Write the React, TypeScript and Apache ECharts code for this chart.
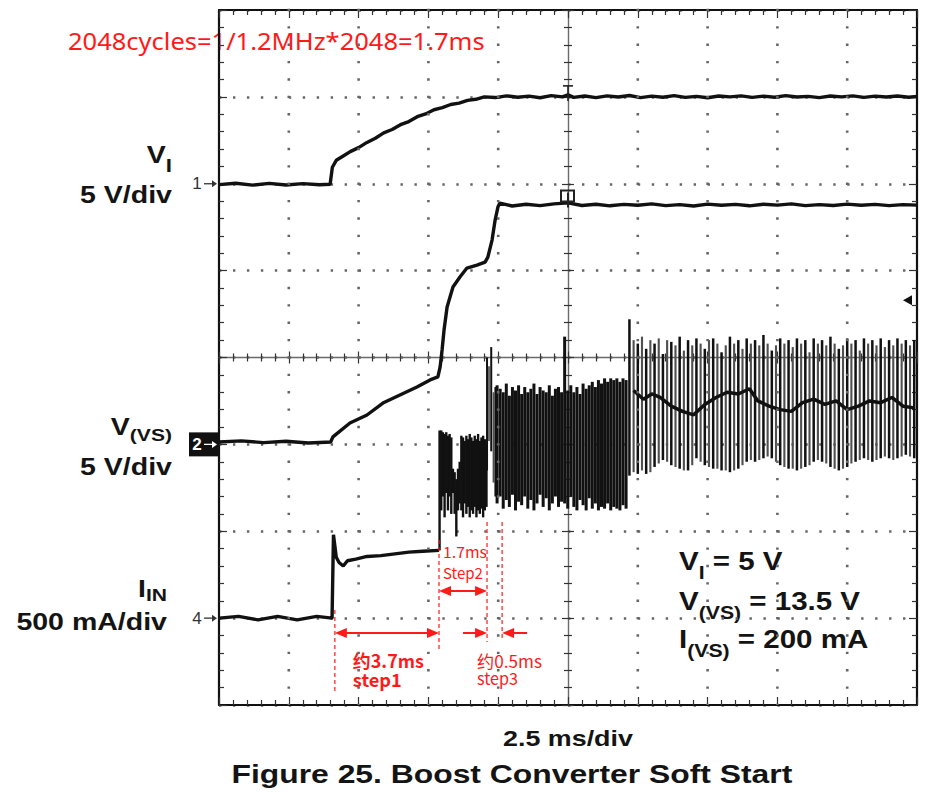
import React, { useEffect, useRef } from "react";
import * as echarts from "echarts";

// ---------- scope settings ----------
const TIME_RANGE_MS = [0, 25];
const TIME_PER_DIV_MS = 2.5;
const DIV_RANGE = [-4, 4];
const TIME_GRID_MS = [2.5, 5, 7.5, 10, 15, 17.5, 20, 22.5];
const MINOR_PER_DIV = 5;
const VI_AXIS_RANGE = [-30, 10]; // 5 V/div, ch1 ground at +2 div
const VS_AXIS_RANGE = [-15, 25]; // 5 V/div, ch2 ground at -1 div
const IIN_AXIS_RANGE = [-0.5, 3.5]; // 500 mA/div, ch4 ground at -3 div

const CH_MARKER_DIVS = [2, -1, -3];
const CH_MARKER_LABELS = ["1", "2", "4"];
const TRIGGER_TIME_MS = 12.5;
const TRIGGER_LEVEL_DIV = 0.66;
// step1 start, step2 start, step2 end, step3 end (ms)
const STEP_EDGES_MS = [4.15, 7.88, 9.6, 10.14];

// ---------- traces ----------
const VI_TRACE: [number, number][] = [
  [0, -0.05], [0.6, 0.03], [1.2, -0.08], [1.8, 0.02], [2.4, -0.07], [3.0, 0.01], [3.6, -0.06], [3.98, -0.03],
  [4.06, 0.95], [4.2, 1.35], [4.45, 1.6], [4.7, 1.85], [5.0, 2.08], [5.3, 2.38], [5.6, 2.62], [5.9, 2.93],
  [6.2, 3.12], [6.5, 3.4], [6.8, 3.58], [7.1, 3.86], [7.4, 4.02], [7.7, 4.26], [8.0, 4.38], [8.3, 4.56],
  [8.6, 4.64], [8.9, 4.8], [9.2, 4.86], [9.5, 5.0], [9.9, 4.96], [10.3, 5.06], [10.7, 4.98], [11.1, 5.04],
  [11.5, 4.95], [11.9, 5.07], [12.3, 5.0], [12.5, 5.12], [12.7, 4.97], [13.1, 5.05], [13.5, 4.96], [13.9, 5.06],
  [14.3, 4.99], [14.7, 5.08], [15.1, 4.96], [15.5, 5.04], [15.9, 4.98], [16.3, 5.07], [16.7, 4.97], [17.1, 5.03],
  [17.5, 4.95], [17.9, 5.05], [18.3, 5.0], [18.7, 5.06], [19.1, 4.97], [19.5, 5.04], [19.9, 4.98], [20.3, 5.07],
  [20.7, 4.99], [21.1, 5.03], [21.5, 4.96], [21.9, 5.05], [22.3, 5.0], [22.7, 5.06], [23.1, 4.97], [23.5, 5.04],
  [23.9, 4.99], [24.3, 5.05], [24.7, 4.98], [25, 5.02],
];

const VS_TRACE: [number, number][] = [
  [0, 0.14], [0.8, 0.2], [1.6, 0.1], [2.4, 0.18], [3.2, 0.08], [4.0, 0.14],
  [4.08, 0.43], [4.69, 1.23], [5.3, 1.69], [5.87, 2.38], [6.48, 2.84], [7.09, 3.3], [7.56, 3.71], [7.84, 3.88],
  [7.92, 4.46], [7.99, 5.43], [8.06, 6.58], [8.17, 7.91], [8.38, 9.06], [8.63, 9.63], [8.88, 10.15],
  [9.24, 10.32], [9.53, 10.49], [9.63, 10.78], [9.78, 11.76], [9.89, 12.91], [9.99, 13.66], [10.06, 13.89],
  [10.5, 13.72], [11.0, 13.82], [11.5, 13.74], [12.0, 13.84], [12.5, 13.9], [13.0, 13.75], [13.5, 13.82],
  [14.0, 13.73], [14.5, 13.81], [15.0, 13.76], [15.5, 13.84], [16.0, 13.74], [16.5, 13.8], [17.0, 13.72],
  [17.5, 13.83], [18.0, 13.76], [18.5, 13.81], [19.0, 13.73], [19.5, 13.82], [20.0, 13.77], [20.5, 13.84],
  [21.0, 13.74], [21.5, 13.8], [22.0, 13.75], [22.5, 13.83], [23.0, 13.76], [23.5, 13.81], [24.0, 13.74],
  [24.5, 13.8], [25, 13.77],
];

const IIN_STEP_TRACE: [number, number][] = [
  [0, 0], [0.7, 0.01], [1.4, -0.01], [2.1, 0.01], [2.8, -0.01], [3.5, 0.01], [4.05, 0],
  [4.1, 0.48], [4.2, 0.35], [4.3, 0.32], [4.45, 0.3], [4.6, 0.33], [4.9, 0.34], [5.3, 0.355], [5.8, 0.36],
  [6.3, 0.37], [6.8, 0.38], [7.3, 0.385], [7.88, 0.39],
];

// switching bursts: each stroke is one sampled [high, low] swing
const IIN_SW_A_START_MS = 7.9;
const IIN_SW_A_STEP_MS = 0.06;
const IIN_SW_A_HI = [
  1.08, 1.08, 1.07, 1.06, 1.07, 1.05, 1.06, 1.04, 0.86, 0.84, 0.8, 0.86, 0.9, 1.05,
  1.04, 1.02, 1.05, 1.03, 1.06, 1.04, 1.02, 1.05, 1.03, 1.06, 1.02, 1.04, 1.05, 1.03, 1.0,
];
const IIN_SW_A_LO = [
  0.39, 0.62, 0.7, 0.58, 0.72, 0.62, 0.7, 0.6, 0.72, 0.6, 0.47, 0.62, 0.66, 0.62,
  0.58, 0.66, 0.6, 0.64, 0.58, 0.62, 0.6, 0.64, 0.58, 0.62, 0.6, 0.63, 0.58, 0.62, 0.64,
];
const IIN_SPIKES: [number, number, number][] = [
  [9.6, 0.85, 1.5], [9.67, 1.02, 1.45], [9.75, 0.96, 1.56], [9.83, 0.78, 1.3], [9.9, 0.7, 1.33],
];
const IIN_SW_B_START_MS = 9.96;
const IIN_SW_B_STEP_MS = 0.11;
const IIN_SW_B_HI = [
  1.34, 1.32, 1.3, 1.35, 1.28, 1.33, 1.31, 1.34, 1.29, 1.33, 1.3, 1.32, 1.35, 1.29, 1.33,
  1.31, 1.3, 1.34, 1.28, 1.32, 1.33, 1.3, 1.62, 1.31, 1.34, 1.3, 1.33, 1.29, 1.35, 1.32,
  1.34, 1.36, 1.33, 1.37, 1.35, 1.38, 1.36, 1.38, 1.37, 1.38, 1.36, 1.38, 1.37,
];
const IIN_SW_B_LO = [
  0.66, 0.7, 0.63, 0.68, 0.64, 0.71, 0.62, 0.67, 0.65, 0.7, 0.63, 0.68, 0.62, 0.66, 0.71,
  0.64, 0.69, 0.62, 0.66, 0.7, 0.64, 0.67, 0.66, 0.63, 0.7, 0.64, 0.62, 0.68, 0.65, 0.62,
  0.69, 0.63, 0.66, 0.62, 0.64, 0.63, 0.66, 0.62, 0.64, 0.63, 0.62, 0.65, 0.63,
];
const IIN_SW_C_START_MS = 14.7;
const IIN_SW_C_STEP_MS = 0.15;
const IIN_SW_C_HI = [
  1.72, 1.6, 1.58, 1.62, 1.55, 1.6, 1.58, 1.61, 1.52, 1.6, 1.59, 1.57, 1.62, 1.54, 1.6,
  1.57, 1.61, 1.58, 1.55, 1.6, 1.61, 1.58, 1.53, 1.57, 1.62, 1.58, 1.6, 1.55, 1.61, 1.58,
  1.6, 1.57, 1.63, 1.58, 1.54, 1.57, 1.61, 1.58, 1.6, 1.56, 1.61, 1.58, 1.6, 1.53, 1.61,
  1.58, 1.6, 1.57, 1.62, 1.58, 1.55, 1.57, 1.61, 1.58, 1.6, 1.54, 1.61, 1.58, 1.6, 1.57,
  1.61, 1.56, 1.6, 1.57, 1.61, 1.58, 1.6, 1.57, 1.6,
];
const IIN_SW_C_LO = [
  0.82, 0.84, 0.83, 0.85, 0.83, 0.84, 0.87, 0.89, 0.91, 0.9, 0.88, 0.87, 0.86, 0.85, 0.85,
  0.88, 0.92, 0.9, 0.88, 0.87, 0.86, 0.86, 0.85, 0.85, 0.84, 0.85, 0.86, 0.88, 0.9, 0.91,
  0.9, 0.91, 0.92, 0.93, 0.92, 0.9, 0.88, 0.87, 0.86, 0.86, 0.85, 0.86, 0.87, 0.88, 0.9,
  0.91, 0.9, 0.89, 0.87, 0.86, 0.85, 0.86, 0.87, 0.89, 0.9, 0.91, 0.92, 0.91, 0.9, 0.91,
  0.92, 0.93, 0.92, 0.91, 0.92, 0.93, 0.94, 0.93, 0.92,
];
const IIN_MID: [number, number][] = [
  [14.85, 1.31], [15.2, 1.26], [15.5, 1.29], [15.8, 1.27], [16.2, 1.22], [16.6, 1.19], [17.0, 1.17],
  [17.4, 1.23], [17.8, 1.27], [18.2, 1.3], [18.6, 1.29], [19.0, 1.32], [19.3, 1.25], [19.7, 1.22],
  [20.1, 1.2], [20.5, 1.19], [20.9, 1.24], [21.3, 1.26], [21.7, 1.23], [22.1, 1.25], [22.5, 1.2],
  [22.9, 1.22], [23.3, 1.25], [23.7, 1.24], [24.1, 1.27], [24.5, 1.22], [24.9, 1.21],
];

// ---------- texts ----------
const TOP_NOTE = "2048cycles=1/1.2MHz*2048=1.7ms";
const TITLE = "Figure 25. Boost Converter Soft Start";
const TIME_SCALE_LABEL = "2.5 ms/div";

const GRID = { left: 219, top: 10, width: 698, height: 695 };
const LABEL_FONT = '"Liberation Sans", Arial, sans-serif';
const RED_FONT = '"Noto Sans CJK SC", "Noto Sans", sans-serif';
const DOT_COLOR = "#666666";

let measureCtx: CanvasRenderingContext2D | null = null;
function textWidth(s: string, size: number, weight: string, family: string) {
  if (!measureCtx) measureCtx = document.createElement("canvas").getContext("2d");
  measureCtx!.font = `${weight} ${size}px ${family}`;
  return measureCtx!.measureText(s).width;
}

type Part = [string, number, number];
function textLine(o: {
  x: number; baseline: number; align: "left" | "right" | "center"; parts: Part[];
  scale?: number; width?: number; weight?: string; family?: string; color?: string; k?: number;
}) {
  const weight = o.weight || "bold";
  const family = o.family || LABEL_FONT;
  const k = o.k ?? 0.347;
  const widths = o.parts.map((p) => textWidth(p[0], p[1], weight, family));
  const total = widths.reduce((a, b) => a + b, 0);
  const scale = o.width ? o.width / total : o.scale || 1;
  let cx = o.align === "left" ? 0 : o.align === "right" ? -total : -total / 2;
  const children: any[] = [];
  o.parts.forEach((p, i) => {
    children.push({
      type: "text", x: cx, y: p[2] - k * p[1], silent: true,
      style: {
        text: p[0], fontSize: p[1], fontWeight: weight, fontFamily: family,
        fill: o.color || "#141414", align: "left", verticalAlign: "middle",
      },
    });
    cx += widths[i];
  });
  return { type: "group", x: o.x, y: o.baseline, scaleX: scale, scaleY: 1, z: 50, children };
}

function arrowHead(x: number, y: number, dir: 1 | -1, color: string) {
  return {
    type: "polygon", z: 60, silent: true,
    shape: { points: [[x, y], [x - dir * 12, y - 5], [x - dir * 12, y + 5]] },
    style: { fill: color },
  };
}
function hLine(x1: number, x2: number, y: number, color: string, w = 2) {
  return { type: "line", z: 60, silent: true, shape: { x1, y1: y, x2, y2: y }, style: { stroke: color, lineWidth: w } };
}
function vDash(x: number, y1: number, y2: number, color = "#ff1a1a", width = 1.2, dash: number[] = [4, 3]) {
  return {
    type: "line", z: 60, silent: true, shape: { x1: x, y1, x2: x, y2 },
    style: { stroke: color, lineWidth: width, lineDash: dash },
  };
}

function strokes(start: number, step: number, hi: number[], lo: number[]): [number, number, number][] {
  return hi.map((h, i) => [Math.round((start + i * step) * 1000) / 1000, lo[i], h]);
}

function strokeSeries(name: string, data: [number, number, number][], width: number, alt: boolean) {
  return {
    name, type: "custom", yAxisIndex: 6, data, silent: true, clip: true, z: 5,
    encode: { x: 0, y: [1, 2] },
    renderItem: (params: any, api: any) => {
      const t = api.value(0);
      const p1 = api.coord([t, api.value(1)]);
      const p2 = api.coord([t, api.value(2)]);
      const grey = alt && params.dataIndex % 2 === 1;
      return {
        type: "line",
        shape: { x1: p1[0], y1: p1[1], x2: p2[0], y2: p2[1] },
        style: { stroke: grey ? "#505050" : "#111", lineWidth: grey ? width * 0.85 : width },
      };
    },
  };
}

export default function App() {
  const ref = useRef<HTMLDivElement>(null);
  useEffect(() => {
    if (!ref.current) return;
    const chart = echarts.init(ref.current, null, { renderer: "svg" });
    const dotStyle = (gap: number) => ({ show: true, lineStyle: { color: DOT_COLOR, width: 2.6, type: [2.4, gap] } });
    const frameTickX = (position: string, offset: number, inside: boolean, showLine: boolean, color: string) => ({
      type: "value", min: TIME_RANGE_MS[0], max: TIME_RANGE_MS[1], interval: TIME_PER_DIV_MS,
      position, offset,
      axisLine: { show: showLine, onZero: false, lineStyle: { color, width: color === "#111" ? 2.2 : 1.4 } },
      axisTick: { show: true, inside, length: inside && offset === 0 ? 8 : 6, lineStyle: { color: "#333", width: 1.2 } },
      minorTick: { show: true, splitNumber: MINOR_PER_DIV, length: inside && offset === 0 ? 5 : 4, lineStyle: { color: "#333", width: 1.2 } },
      axisLabel: { show: false },
      splitLine: { show: false },
      z: 1,
    });
    const frameTickY = (position: string, offset: number, inside: boolean, showLine: boolean, color: string, split: boolean) => ({
      type: "value", min: DIV_RANGE[0], max: DIV_RANGE[1], interval: 1,
      position, offset,
      axisLine: { show: showLine, onZero: false, lineStyle: { color, width: color === "#111" ? 2.2 : 1.4 } },
      axisTick: { show: true, inside, length: inside && offset === 0 ? 8 : 6, lineStyle: { color: "#333", width: 1.2 } },
      minorTick: { show: true, splitNumber: MINOR_PER_DIV, length: inside && offset === 0 ? 5 : 4, lineStyle: { color: "#333", width: 1.2 } },
      axisLabel: { show: false },
      splitLine: split ? dotStyle(13.96 - 2.4) : { show: false },
      z: 1,
    });
    const hidden = (r: number[]) => ({ type: "value", min: r[0], max: r[1], show: false, splitLine: { show: false } });

    const lineSeries = (name: string, axis: number, data: [number, number][], width: number, color = "#111") => ({
      name, type: "line", yAxisIndex: axis, data, showSymbol: false, symbol: "none", silent: true,
      lineStyle: { color, width }, z: 5,
    });

    const option: any = {
      animation: false,
      backgroundColor: "#ffffff",
      grid: { ...GRID, show: false },
      xAxis: [
        frameTickX("bottom", 0, true, true, "#111"),
        frameTickX("top", 0, true, true, "#111"),
        frameTickX("bottom", -GRID.height / 2, true, true, "#6a6a6a"),
        frameTickX("bottom", -GRID.height / 2, false, false, "#6a6a6a"),
      ],
      yAxis: [
        frameTickY("left", 0, true, true, "#111", true),
        frameTickY("right", 0, true, true, "#111", false),
        frameTickY("left", -GRID.width / 2, true, true, "#6a6a6a", false),
        frameTickY("left", -GRID.width / 2, false, false, "#6a6a6a", false),
        hidden(VI_AXIS_RANGE),
        hidden(VS_AXIS_RANGE),
        hidden(IIN_AXIS_RANGE),
      ],
      series: [
        lineSeries("VI", 4, VI_TRACE, 3.4),
        lineSeries("VS", 5, VS_TRACE, 3.4),
        lineSeries("IIN", 6, IIN_STEP_TRACE, 3.4),
        strokeSeries("IIN switching A", strokes(IIN_SW_A_START_MS, IIN_SW_A_STEP_MS, IIN_SW_A_HI, IIN_SW_A_LO), 2.4, false),
        strokeSeries("IIN spikes", IIN_SPIKES, 2, true),
        strokeSeries("IIN switching B", strokes(IIN_SW_B_START_MS, IIN_SW_B_STEP_MS, IIN_SW_B_HI, IIN_SW_B_LO), 3, false),
        strokeSeries("IIN switching C", strokes(IIN_SW_C_START_MS, IIN_SW_C_STEP_MS, IIN_SW_C_HI, IIN_SW_C_LO), 2.5, true),
        lineSeries("IIN mean", 6, IIN_MID, 3.5),
      ],
    };
    chart.setOption(option);

    const px = (t: number) => chart.convertToPixel({ xAxisIndex: 0 }, t) as number;
    const py = (d: number) => chart.convertToPixel({ yAxisIndex: 0 }, d) as number;
    const [t0, t1, t2, t3] = STEP_EDGES_MS.map(px);
    const red = "#ff1a1a";
    const g: any[] = [];

    // vertical dotted graticule lines (same mechanism as the visible red dashed lines)
    const yTop = py(DIV_RANGE[1]);
    const yBot = py(DIV_RANGE[0]);
    const minorY = (yBot - yTop) / ((DIV_RANGE[1] - DIV_RANGE[0]) * MINOR_PER_DIV);
    TIME_GRID_MS.forEach((t) => {
      g.push(vDash(px(t), yTop - 1.2, yBot, DOT_COLOR, 2.6, [2.4, minorY - 2.4]));
    });

    // channel markers
    CH_MARKER_DIVS.forEach((d, i) => {
      const y = py(d);
      const boxed = CH_MARKER_LABELS[i] === "2";
      const fg = boxed ? "#fff" : "#333";
      if (boxed) g.push({ type: "rect", z: 55, silent: true, shape: { x: GRID.left - 30, y: y - 12, width: 29, height: 24 }, style: { fill: "#111" } });
      g.push({ type: "text", z: 56, silent: true, x: GRID.left - 22, y, style: { text: CH_MARKER_LABELS[i], fontSize: 17, fontWeight: boxed ? "bold" : "normal", fontFamily: LABEL_FONT, fill: fg, align: "center", verticalAlign: "middle" } });
      g.push({ type: "line", z: 56, silent: true, shape: { x1: GRID.left - 15, y1: y, x2: GRID.left - 5, y2: y }, style: { stroke: fg, lineWidth: 1.3 } });
      g.push({ type: "polygon", z: 56, silent: true, shape: { points: [[GRID.left - 2, y], [GRID.left - 7, y - 3.5], [GRID.left - 7, y + 3.5]] }, style: { fill: fg } });
    });

    // trigger level marker (right) and trigger position marks
    const ty = py(TRIGGER_LEVEL_DIV);
    const rx = GRID.left + GRID.width;
    g.push({ type: "polygon", z: 56, silent: true, shape: { points: [[rx - 14, ty], [rx - 5, ty - 5], [rx - 5, ty + 5]] }, style: { fill: "#111" } });
    const tx = px(TRIGGER_TIME_MS);
    const viY = chart.convertToPixel({ yAxisIndex: 4 }, 5) as number;
    const vsY = chart.convertToPixel({ yAxisIndex: 5 }, 13.8) as number;
    g.push({ type: "line", z: 56, silent: true, shape: { x1: tx - 5, y1: viY - 11, x2: tx + 5, y2: viY - 11 }, style: { stroke: "#222", lineWidth: 1.6 } });
    g.push({ type: "line", z: 56, silent: true, shape: { x1: tx, y1: viY - 11, x2: tx, y2: viY + 4 }, style: { stroke: "#222", lineWidth: 1.6 } });
    g.push({ type: "rect", z: 56, silent: true, shape: { x: tx - 7, y: vsY - 14, width: 13, height: 11 }, style: { fill: "none", stroke: "#222", lineWidth: 2 } });
    g.push({ type: "line", z: 56, silent: true, shape: { x1: tx, y1: vsY - 12, x2: tx, y2: vsY + 3 }, style: { stroke: "#222", lineWidth: 2 } });

    // black labels
    g.push(textLine({ x: 172, baseline: 163, align: "right", scale: 1.24, parts: [["V", 23, 0], ["I", 18, 9]] }));
    g.push(textLine({ x: 172, baseline: 203, align: "right", scale: 1.24, parts: [["5 V/div", 23, 0]] }));
    g.push(textLine({ x: 172, baseline: 435, align: "right", scale: 1.24, parts: [["V", 23, 0], ["(VS)", 17, 6]] }));
    g.push(textLine({ x: 172, baseline: 475, align: "right", scale: 1.24, parts: [["5 V/div", 23, 0]] }));
    g.push(textLine({ x: 167, baseline: 597, align: "right", scale: 1.24, parts: [["I", 23, 0], ["IN", 17, 4]] }));
    g.push(textLine({ x: 167, baseline: 630, align: "right", scale: 1.24, parts: [["500 mA/div", 23, 0]] }));
    g.push(textLine({ x: 679, baseline: 570, align: "left", scale: 1.18, parts: [["V", 25, 0], ["I", 18, 9], [" = 5 V", 25, 0]] }));
    g.push(textLine({ x: 679, baseline: 610, align: "left", scale: 1.18, parts: [["V", 25, 0], ["(VS)", 18, 9], [" = 13.5 V", 25, 0]] }));
    g.push(textLine({ x: 679, baseline: 648, align: "left", scale: 1.18, parts: [["I", 25, 0], ["(VS)", 18, 9], [" = 200 mA", 25, 0]] }));
    g.push(textLine({ x: px(TRIGGER_TIME_MS), baseline: 746, align: "center", width: 130, parts: [[TIME_SCALE_LABEL, 23, 0]] }));
    g.push(textLine({ x: 512, baseline: 783, align: "center", width: 561, parts: [[TITLE, 26, 0]] }));

    // red annotations
    g.push(textLine({ x: 68, baseline: 50, align: "left", width: 417, weight: "normal", family: '"Noto Sans", sans-serif', color: red, k: 0.388, parts: [[TOP_NOTE, 24, 0]] }));
    g.push(vDash(t0, 610, 692));
    g.push(vDash(t1, 540, 650));
    g.push(vDash(t2, 522, 642));
    g.push(vDash(t3, 522, 640));
    g.push(hLine(t0 + 6, t1 - 6, 633, red));
    g.push(arrowHead(t0, 633, -1, red));
    g.push(arrowHead(t1, 633, 1, red));
    g.push(hLine(t1 + 6, t2 - 6, 591, red));
    g.push(arrowHead(t1, 591, -1, red));
    g.push(arrowHead(t2, 591, 1, red));
    g.push(hLine(t2 - 24, t2 - 6, 633, red));
    g.push(arrowHead(t2, 633, 1, red));
    g.push(hLine(t3 + 6, t3 + 25, 633, red));
    g.push(arrowHead(t3, 633, -1, red));
    g.push(textLine({ x: t1 + 4, baseline: 557, align: "left", width: 44, weight: "normal", family: RED_FONT, color: red, k: 0.38, parts: [["1.7ms", 15, 0]] }));
    g.push(textLine({ x: t1 + 4, baseline: 578, align: "left", width: 40, weight: "normal", family: RED_FONT, color: red, k: 0.38, parts: [["Step2", 15, 0]] }));
    g.push(textLine({ x: t0 + 18, baseline: 667, align: "left", width: 71, weight: "bold", family: RED_FONT, color: red, k: 0.38, parts: [["约3.7ms", 18, 0]] }));
    g.push(textLine({ x: t0 + 18, baseline: 686, align: "left", width: 49, weight: "bold", family: RED_FONT, color: red, k: 0.38, parts: [["step1", 18, 0]] }));
    g.push(textLine({ x: t2 - 10, baseline: 667, align: "left", width: 65, weight: "normal", family: RED_FONT, color: red, k: 0.38, parts: [["约0.5ms", 17, 0]] }));
    g.push(textLine({ x: t2 - 10, baseline: 684, align: "left", width: 41, weight: "normal", family: RED_FONT, color: red, k: 0.38, parts: [["step3", 17, 0]] }));

    chart.setOption({ graphic: g });
    return () => chart.dispose();
  }, []);

  return (
    <div
      ref={ref}
      style={{ position: "fixed", left: 0, top: 0, width: 939, height: 797, background: "#fff" }}
    />
  );
}
